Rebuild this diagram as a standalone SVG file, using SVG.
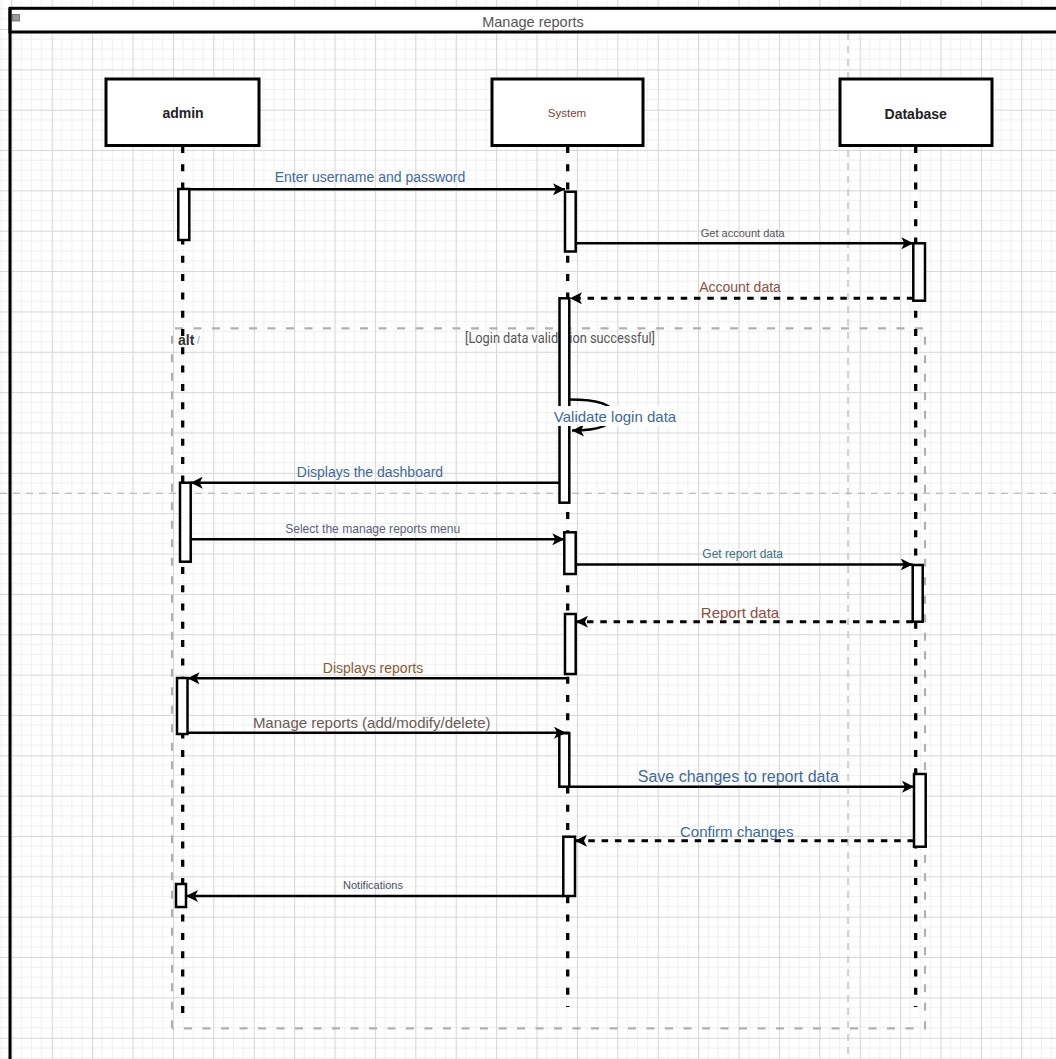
<svg xmlns="http://www.w3.org/2000/svg" width="1056" height="1059" viewBox="0 0 1056 1059">
<defs>
<pattern id="grid" x="11.3" y="29" width="40.4" height="40.35" patternUnits="userSpaceOnUse">
<path d="M10.1 0V40.35M20.2 0V40.35M30.3 0V40.35M0 10.09H40.4M0 20.17H40.4M0 30.26H40.4" stroke="#f0f0f0" stroke-width="1" fill="none"/>
<path d="M0.5 0V40.35M0 0.5H40.4" stroke="#d6d6d6" stroke-width="1.2" fill="none"/>
</pattern>
<marker id="arr" markerUnits="userSpaceOnUse" markerWidth="14" markerHeight="12" refX="12" refY="6" orient="auto">
<path d="M0,0 L12,6 L0,12 L3,6 Z" fill="#000"/>
</marker>
</defs>
<style>
.box{fill:#fff;stroke:#000;stroke-width:3}
.act{fill:#fff;stroke:#000;stroke-width:2.5}
.life{stroke:#000;stroke-width:3.3;stroke-dasharray:7 11.3;fill:none}
.msg{stroke:#000;stroke-width:2.6;fill:none;marker-end:url(#arr)}
.ret{stroke:#000;stroke-width:3;stroke-dasharray:6.5 6.8;fill:none;marker-end:url(#arr)}
.pb{stroke:#bdbdbd;stroke-width:1.3;stroke-dasharray:7 6;fill:none}
.altf{stroke:#b0b0b0;stroke-width:2.2;stroke-dasharray:8 10.5;fill:none}
.t{font-family:"Liberation Sans",Arial,sans-serif;text-anchor:middle}
</style>
<rect width="1056" height="1059" fill="#fff"/>
<rect width="1056" height="1059" fill="url(#grid)"/>
<g id="pagebreaks">
<path class="pb" d="M848,33 V1059"/>
<path class="pb" d="M0,493.3 H1056"/>
</g>
<g id="frame">
<rect x="10" y="8.3" width="1052" height="23.7" fill="#fff" stroke="#000" stroke-width="3"/>
<path d="M10,8.3 V1060" stroke="#000" stroke-width="3" fill="none"/>
<rect x="12.5" y="14.5" width="7" height="6.5" fill="#9a9a9a" stroke="#666" stroke-width="0.8"/>
<text class="t" x="533" y="26.5" font-size="14.5" fill="#555">Manage reports</text>
</g>
<g id="alt">
<path class="altf" d="M172,1028.3 V328.3 H925 V1028.3 H172"/>
<text x="178" y="345" font-family="Liberation Sans,Arial,sans-serif" font-size="14" font-weight="bold" fill="#333">alt</text>
<text x="197" y="344" font-family="Liberation Sans,Arial,sans-serif" font-size="10" fill="#7aa0c8">/</text>
<text x="465" y="343" font-family="Roboto,Liberation Sans,sans-serif" font-size="14" fill="#555" textLength="190" lengthAdjust="spacingAndGlyphs">[Login data validation successful]</text>
</g>
<g id="lifelines">
<path class="life" d="M182.7,146 V1017"/>
<path class="life" d="M567.7,146 V1007"/>
<path class="life" d="M915.7,146 V1007"/>
</g>
<g id="admin">
<rect class="box" x="106" y="79" width="153" height="66.5"/>
<text class="t" x="183" y="118" font-size="14" font-weight="bold" fill="#222">admin</text>
</g>
<g id="system">
<rect class="box" x="492" y="79" width="151" height="66.5"/>
<text class="t" x="567" y="116.5" font-size="11.5" fill="#7a4438">System</text>
</g>
<g id="database">
<rect class="box" x="840" y="79" width="152" height="66.5"/>
<text class="t" x="915.7" y="118.5" font-size="14" font-weight="bold" fill="#222">Database</text>
</g>
<g id="activations">
<rect class="act" x="178.3" y="189" width="11" height="51"/>
<rect class="act" x="180" y="482.7" width="10.7" height="79"/>
<rect class="act" x="177" y="678" width="10.5" height="56"/>
<rect class="act" x="176" y="884" width="10" height="23"/>
<rect class="act" x="565" y="191.7" width="10.7" height="59.8"/>
<rect class="act" x="559.5" y="298.3" width="9.8" height="204.4"/>
<rect class="act" x="564.3" y="532.3" width="11.4" height="41.7"/>
<rect class="act" x="565" y="614" width="10.7" height="60"/>
<rect class="act" x="559.3" y="733.3" width="10" height="53.4"/>
<rect class="act" x="563.3" y="836.7" width="11.7" height="59.3"/>
<rect class="act" x="913.3" y="243.3" width="11.7" height="57.4"/>
<rect class="act" x="912.7" y="565" width="10" height="56.7"/>
<rect class="act" x="914" y="774" width="11.7" height="72.7"/>
</g>
<g id="connectors">
<path class="msg" d="M189.3,189.3 H565"/>
<path class="msg" d="M575.7,243.3 H913.3"/>
<path class="ret" d="M913.3,298.3 H570"/>
<path class="msg" d="M569.3,399.5 C598,399.5 613,404 613,414.5 C613,425 600,430.5 572,430.5"/>
<path class="msg" d="M559.5,482.7 H190.7"/>
<path class="msg" d="M190.7,539.3 H564.3"/>
<path class="msg" d="M575.7,564.5 H912.7"/>
<path class="ret" d="M912.7,621.7 H576"/>
<path class="msg" d="M569,678.3 H187.5"/>
<path class="msg" d="M187.5,732.7 H566"/>
<path class="msg" d="M568,786.7 H914"/>
<path class="ret" d="M914,840.7 H575"/>
<path class="msg" d="M563.3,896 H186"/>
</g>
<g id="labels">
<text class="t" x="370" y="182" font-size="14" fill="#3d6a9e">Enter username and password</text>
<text class="t" x="742.7" y="237.2" font-size="11" fill="#555">Get account data</text>
<text class="t" x="740" y="292.2" font-size="14" fill="#8d4f45">Account data</text>
<rect x="553" y="406" width="124" height="20" fill="#fff"/>
<text class="t" x="615" y="422" font-size="15" fill="#3d6a9e">Validate login data</text>
<text class="t" x="370" y="476.5" font-size="14" fill="#3d6a9e">Displays the dashboard</text>
<text class="t" x="372.7" y="533" font-size="13" fill="#5b5f7a" textLength="175" lengthAdjust="spacingAndGlyphs">Select the manage reports menu</text>
<text class="t" x="742.7" y="558.3" font-size="12" fill="#3f6f86">Get report data</text>
<text class="t" x="740" y="618" font-size="15" fill="#8d4f45">Report data</text>
<text class="t" x="373" y="673" font-size="14" fill="#8a5a2e">Displays reports</text>
<text class="t" x="371.7" y="727.5" font-size="15" fill="#6b5a55">Manage reports (add/modify/delete)</text>
<text class="t" x="738.3" y="782.3" font-size="16" fill="#3d6a9e">Save changes to report data</text>
<text class="t" x="736.7" y="837" font-size="15" fill="#3d6a9e">Confirm changes</text>
<text class="t" x="373" y="889" font-size="11" fill="#4a5068">Notifications</text>
</g>
</svg>
